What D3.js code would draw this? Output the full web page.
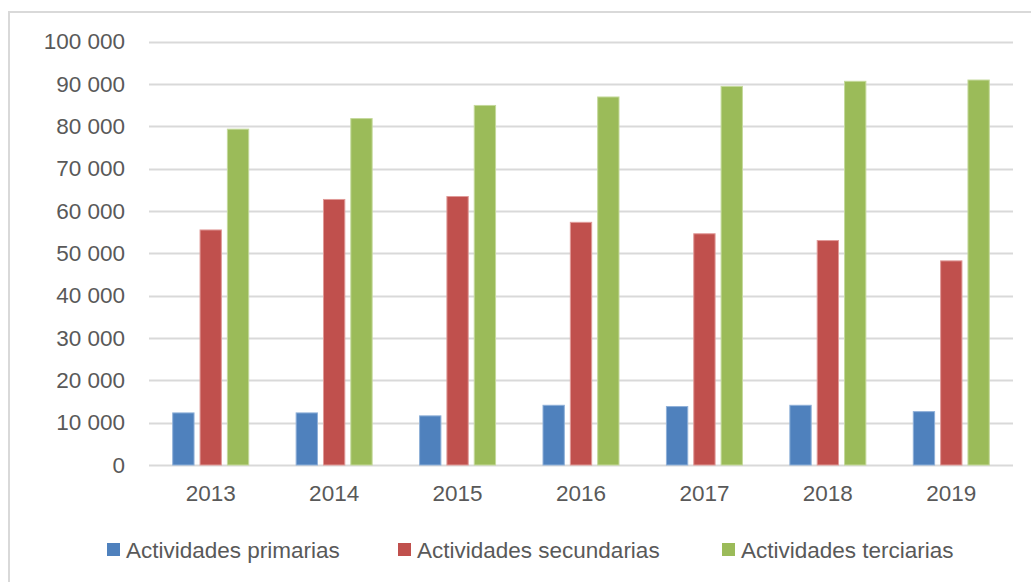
<!DOCTYPE html>
<html>
<head>
<meta charset="utf-8">
<script src="https://cdn.jsdelivr.net/npm/d3@7"></script>
<style>
  body { margin: 0; background: #fff; }
  text { font-family: "Liberation Sans", Arial, sans-serif; fill: #595959; }
</style>
</head>
<body>
<svg id="chart" width="1031" height="582"></svg>
<script>
// data
var years = ["2013", "2014", "2015", "2016", "2017", "2018", "2019"];
var series = ["Actividades primarias", "Actividades secundarias", "Actividades terciarias"];
var primarias   = [12300, 12300, 11600, 14100, 13800, 14100, 12600];
var secundarias = [55500, 62700, 63400, 57300, 54600, 53000, 48200];
var terciarias  = [79300, 81800, 84900, 86900, 89400, 90600, 90900];
var yTicks = [0, 10000, 20000, 30000, 40000, 50000, 60000, 70000, 80000, 90000, 100000];
var colors = ["#4F81BD", "#C0504D", "#9BBB59"];
var strokes = ["#8fb0d8", "#e09a98", "#c4d99b"];

var values = [primarias, secundarias, terciarias];
var fontSize = "22.5px";

var svg = d3.select("#chart");

// chart area border (runs off right and bottom)
svg.append("rect")
    .attr("x", 9).attr("y", 12)
    .attr("width", 1100).attr("height", 700)
    .attr("fill", "none")
    .attr("stroke", "#d9d9d9")
    .attr("stroke-width", 2);

var plot = {left: 149, right: 1013, top: 41.5, bottom: 465};

var x0 = d3.scaleBand().domain(years).range([plot.left, plot.right]).padding(0);
var y = d3.scaleLinear().domain([0, 100000]).range([plot.bottom, plot.top]);

var fmt = function(v) { return d3.format(",")(v).replace(/,/g, " "); };

// gridlines
svg.append("g").selectAll("line")
    .data(yTicks)
    .enter().append("line")
    .attr("x1", plot.left).attr("x2", plot.right)
    .attr("y1", function(d) { return Math.round(y(d)) + 0.5; })
    .attr("y2", function(d) { return Math.round(y(d)) + 0.5; })
    .attr("stroke", "#d9d9d9")
    .attr("stroke-width", 2);

// y axis labels
var yAxis = d3.axisLeft(y).tickValues(yTicks).tickFormat(fmt).tickSize(0).tickPadding(0);
var gy = svg.append("g").attr("transform", "translate(125,0)").call(yAxis);
gy.select(".domain").remove();
gy.selectAll("text")
    .attr("font-size", fontSize)
    .attr("font-family", "Liberation Sans, Arial, sans-serif")
    .attr("fill", "#595959");

// x axis labels
var xAxis = d3.axisBottom(x0).tickSize(0).tickPadding(0);
var gx = svg.append("g").attr("transform", "translate(0,485)").call(xAxis);
gx.select(".domain").remove();
gx.selectAll("text")
    .attr("font-size", fontSize)
    .attr("font-family", "Liberation Sans, Arial, sans-serif")
    .attr("fill", "#595959");

// bars
var groupW = 76;
var x1 = d3.scaleBand().domain(d3.range(series.length)).range([0, groupW]).paddingInner(0.22);

var groups = svg.append("g").selectAll("g")
    .data(years)
    .enter().append("g")
    .attr("transform", function(d) {
        return "translate(" + (x0(d) + x0.bandwidth() / 2 - groupW / 2) + ",0)";
    });

groups.selectAll("rect")
    .data(function(d, i) {
        return values.map(function(s, k) { return {k: k, v: s[i]}; });
    })
    .enter().append("rect")
    .attr("x", function(d) { return x1(d.k); })
    .attr("width", x1.bandwidth())
    .attr("y", function(d) { return y(d.v); })
    .attr("height", function(d) { return plot.bottom - y(d.v); })
    .attr("fill", function(d) { return colors[d.k]; })
    .attr("stroke", function(d) { return strokes[d.k]; })
    .attr("stroke-width", 1);

// legend
var legendX = [107, 398, 722];
var legend = svg.append("g").selectAll("g")
    .data(series)
    .enter().append("g")
    .attr("transform", function(d, i) { return "translate(" + legendX[i] + ",543)"; });

legend.append("rect")
    .attr("width", 13).attr("height", 13)
    .attr("fill", function(d, i) { return colors[i]; });

legend.append("text")
    .attr("x", 19).attr("y", 7)
    .attr("dy", "0.35em")
    .attr("font-size", fontSize)
    .text(function(d) { return d; });
</script>
</body>
</html>
